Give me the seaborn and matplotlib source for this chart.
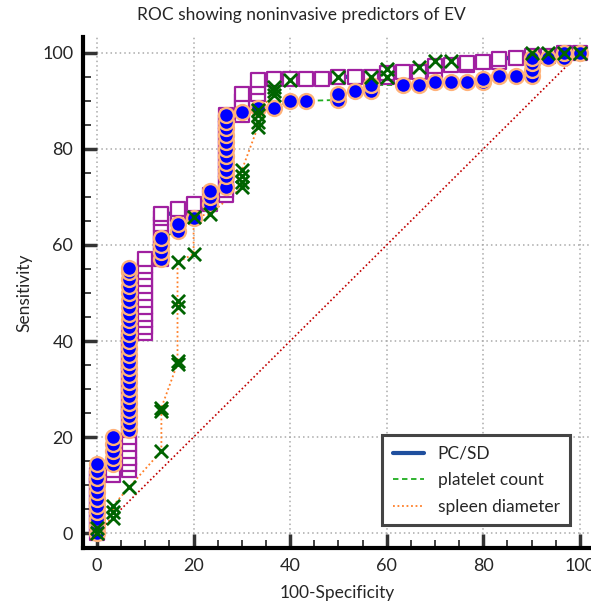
import numpy as np
import pandas as pd
import matplotlib.pyplot as plt
import seaborn as sns
from matplotlib.ticker import MultipleLocator
from matplotlib.lines import Line2D

# ROC points (100-Specificity, Sensitivity)
pcsd_x = [0]*10 + [3.33]*2 + [6.67]*21 + [10]*12 + [13.33]*8 + [16.67]*2 + [20]*2 + [23.33]*2 \
    + [26.67]*13 + [30]*4 + [33.33]*3 + [36.67, 40, 43.33, 46.67, 50, 53.33, 56.67, 60, 60, 63.33,
                                          66.67, 70, 70, 73.33, 76.67, 76.67, 80, 83.33, 83.33, 86.67,
                                          90, 93.33, 96.67, 100]
pcsd_y = [0, 1.4, 2.9, 4.3, 5.7, 7.1, 8.6, 10, 11.4, 12.1,
          12.1, 13.1,
          13.1, 14.3, 15.7, 17.1, 18.6, 20, 21.4, 22.9, 24.3, 25.7, 27.1, 28.6, 30, 31.4, 32.9, 34.3,
          35.7, 37.1, 38.6, 40, 41.7,
          41.7, 42.9, 44.3, 45.7, 47.1, 48.6, 50, 51.4, 52.9, 54.3, 55.7, 57,
          57, 58.6, 60, 61.4, 62.9, 64.3, 65.7, 66.5,
          66.5, 67.5,
          67.5, 68.6,
          68.6, 70.4,
          70.4, 71.4, 72.9, 74.3, 75.7, 77.1, 78.6, 80, 81.4, 82.9, 84.3, 85.7, 87.1,
          87.1, 88.6, 90, 91.4,
          91.4, 92.9, 94.4,
          94.6, 94.6, 94.6, 94.6, 95, 95, 95, 95, 95.8, 96.1,
          96.1, 96.1, 97.3, 97.5, 97.5, 97.9, 98, 98, 98.8, 99,
          99.4, 99.4, 100, 100]

plt_x = [0]*11 + [3.33]*5 + [6.67]*25 + [13.33]*4 + [16.67]*2 + [20] + [23.33]*3 + [26.67]*11 \
    + [30, 33.33, 36.67, 40, 43.33, 50, 50, 53.33, 56.67, 56.67, 63.33, 66.67, 70, 73.33, 76.67,
       80, 80, 83.33, 86.67, 90, 90, 90, 90, 93.33, 96.67, 96.67, 100]
plt_y = [0, 1.4, 2.9, 4.3, 5.7, 7.1, 8.6, 10, 11.4, 12.9, 14.3,
         14.3, 15.7, 17.1, 18.6, 20,
         21.4, 22.9, 24.3, 25.7, 27.1, 28.6, 30, 31.4, 32.9, 34.3, 35.7, 37.1, 38.6, 40, 41.4, 42.9,
         44.3, 45.7, 47.1, 48.6, 50, 51.4, 52.9, 54.3, 55.2,
         57.1, 58.6, 60, 61.4,
         62.9, 64.3,
         65.7,
         68.6, 70, 71.2,
         72, 74.3, 75.7, 77.1, 78.6, 80, 81.4, 82.9, 84.3, 85.7, 87.1,
         87.7, 88.6, 88.6, 90, 90, 90.2, 91.4, 92, 92, 93.3, 93.3, 93.3, 93.9, 93.9, 93.9,
         93.9, 94.6, 95.2, 95.2, 95.2, 96.5, 97.9, 99, 99, 99, 100, 100]

spl_x = [0, 0, 3.33, 3.33, 3.33, 6.67, 13.33, 13.33, 13.33, 16.67, 16.67, 16.67, 16.67, 16.67,
         20, 20, 23.33, 30, 30, 30, 30, 33.33, 33.33, 33.33, 33.33, 36.67, 36.67, 36.67, 40,
         50, 56.67, 60, 60, 66.67, 70, 73.33, 90, 93.33, 96.67, 100]
spl_y = [0, 1.0, 3.1, 4.3, 5.7, 9.6, 17.1, 25.4, 26.1, 35.3, 35.8, 47.1, 48.3, 56.4,
         58.1, 65.9, 66.4, 72, 73.2, 74.4, 75.6, 84.6, 85.7, 87, 88, 91.3, 92.1, 92.9, 94.4,
         95, 95, 95, 96.7, 97.1, 98.4, 98.4, 100, 100, 100, 100]

diag = [0, 100]

sns.set_style('white')
plt.rcParams['font.family'] = ['Lato', 'DejaVu Sans']

fig = plt.figure(figsize=(5.91, 6.13), dpi=100)
ax = fig.add_axes([83/591, 65/613, 508/591, 511/613])

# reference diagonal
sns.lineplot(x=diag, y=diag, ax=ax, color='#c00000', linestyle=(0, (1, 1.5)), linewidth=1.2,
             sort=False, estimator=None, zorder=2)

# curves
sns.lineplot(x=pcsd_x, y=pcsd_y, ax=ax, color='#1f4f9e', linewidth=3, sort=False,
             estimator=None, zorder=2)
sns.lineplot(x=plt_x, y=plt_y, ax=ax, color='#1fae1f', linestyle=(0, (3, 2)), linewidth=1.3,
             sort=False, estimator=None, zorder=2)
sns.lineplot(x=spl_x, y=spl_y, ax=ax, color='#ff7f27', linestyle=(0, (1, 1.5)), linewidth=1.3,
             sort=False, estimator=None, zorder=2)

# markers
sns.scatterplot(x=pcsd_x, y=pcsd_y, ax=ax, marker='s', s=105, facecolor='white',
                edgecolor='#a020a0', linewidth=1.6, zorder=3)
sns.scatterplot(x=plt_x, y=plt_y, ax=ax, marker='o', s=115, color='#0000ff',
                edgecolor='#ffb27a', linewidth=1.7, zorder=4)
sns.scatterplot(x=spl_x, y=spl_y, ax=ax, marker='x', s=90, color='#006400',
                linewidth=2, zorder=5)

ax.set_xlim(-2.9, 102.3)
ax.set_ylim(-3.1, 103.3)
ax.xaxis.set_major_locator(MultipleLocator(20))
ax.yaxis.set_major_locator(MultipleLocator(20))
ax.xaxis.set_minor_locator(MultipleLocator(5))
ax.yaxis.set_minor_locator(MultipleLocator(5))
ax.grid(True, which='major', color='#aaaaaa', linestyle=(0, (1, 2)), linewidth=1.1)
ax.set_axisbelow(True)

for side in ['top', 'right']:
    ax.spines[side].set_visible(False)
for side in ['left', 'bottom']:
    ax.spines[side].set_linewidth(3)
    ax.spines[side].set_color('black')

ax.tick_params(which='major', direction='in', length=10, width=2.5, color='#333333',
               labelsize=13, pad=7, left=True, bottom=True)
ax.tick_params(which='minor', direction='in', length=5.5, width=1.3, color='#333333',
               left=True, bottom=True)

ax.set_xlabel('100-Specificity', fontsize=12.5, labelpad=8)
ax.set_ylabel('Sensitivity', fontsize=12.5, labelpad=7)
fig.suptitle('ROC showing noninvasive predictors of EV', x=0.51, y=0.975, va='center',
             fontsize=12.5)

handles = [Line2D([], [], color='#1f4f9e', linewidth=3),
           Line2D([], [], color='#1fae1f', linestyle=(0, (3, 2)), linewidth=1.3),
           Line2D([], [], color='#ff7f27', linestyle=(0, (1, 1.5)), linewidth=1.3)]
leg = ax.legend(handles, ['PC/SD', 'platelet count', 'spleen diameter'], loc='lower right',
                bbox_to_anchor=(0.959, 0.045), borderaxespad=0, fontsize=12.5,
                handlelength=1.8, fancybox=False, framealpha=1, borderpad=0.6,
                labelspacing=0.6)
leg.get_frame().set_edgecolor('#444444')
leg.get_frame().set_linewidth(2.2)

plt.savefig('out.png', dpi=100)
